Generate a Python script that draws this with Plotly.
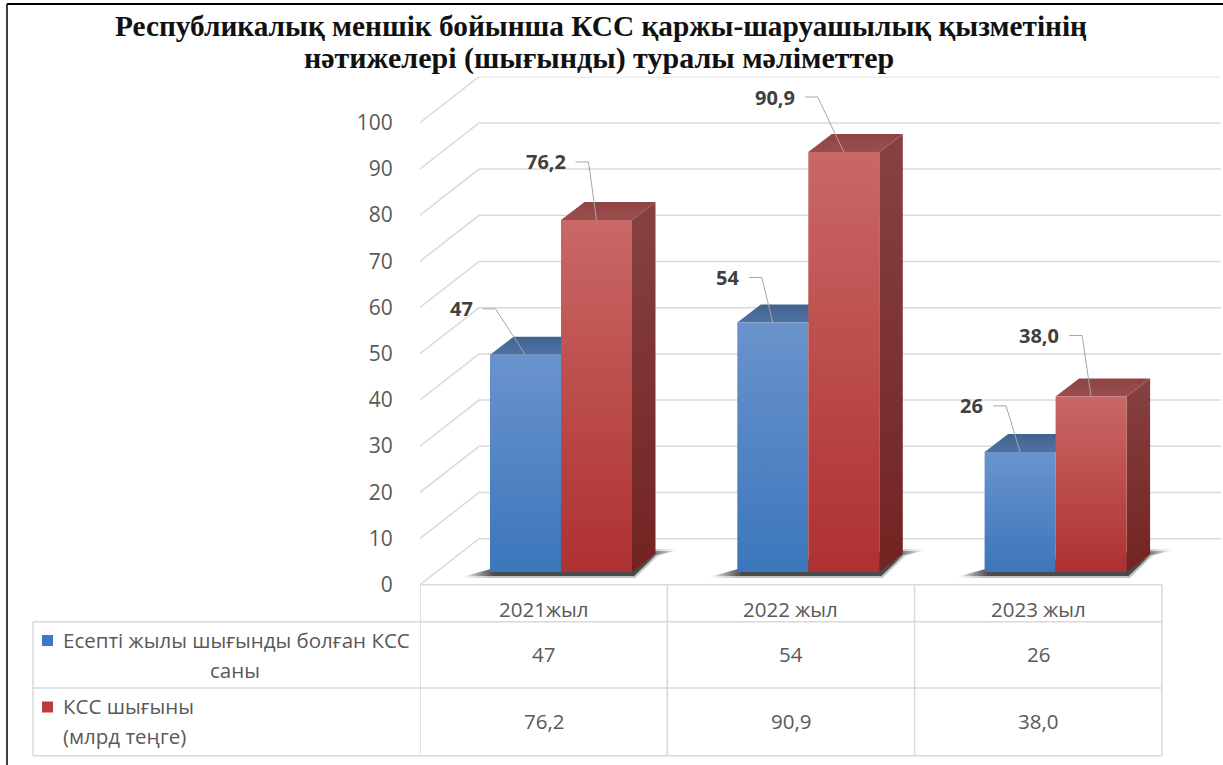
import plotly.graph_objects as go

# данные
categories = ['2021жыл', '2022 жыл', '2023 жыл']
ksk_count = [47, 54, 26]
ksk_loss = [76.2, 90.9, 38.0]
count_labels = ['47', '54', '26']
loss_labels = ['76,2', '90,9', '38,0']
y_ticks = [0, 10, 20, 30, 40, 50, 60, 70, 80, 90, 100]
title_line1 = 'Республикалық меншік бойынша КСС қаржы-шаруашылық қызметінің'
title_line2 = 'нәтижелері (шығынды) туралы мәліметтер'

W, H = 1223, 765
LAYOUT_H = 778              # страница рисует ниже заданной высоты
LEFT, ZERO = 420, 584.7     # угол графика, пиксели
CAT_PX, VAL_PX = 247.3, 4.62
FONT = 'Open Sans'
GREY = '#595959'
LINE = '#D9D9D9'


def xu(px):
    return px / CAT_PX


def yu(px):
    return px / VAL_PX


def paper_y(py):
    return 1 - py / H


BAR_W = xu(71)
BAR_START = xu(70)
BASE = yu(12.7)
DEPTH_X, DEPTH_Y = xu(23.5), yu(18)
WALL_X, WALL_Y = xu(59), yu(46)

BLUE = dict(front=['#6A93CC', '#3B76BC'], top=['#41638F', '#4F72A3'], side=['#45699A', '#2C5A90'])
RED = dict(front=['#C96866', '#AE3130'], top=['#8F4444', '#9A4D4D'], side=['#864241', '#722322'])
SHADOW = ['rgba(70,70,70,0)'] + ['rgba(45,45,45,0.8)'] * 6 + ['rgba(70,70,70,0)']
SHADOW_SOFT = ['rgba(90,90,90,0)'] + ['rgba(80,80,80,0.35)'] * 6 + ['rgba(90,90,90,0)']

fig = go.Figure()


def poly(xs, ys, colors, kind='vertical', name=''):
    scale = [[i / (len(colors) - 1), c] for i, c in enumerate(colors)]
    # vertical gradient goes bottom to top of the axis, so flip the top-to-bottom list
    if kind == 'vertical':
        scale = [[p, c] for p, c in zip([s[0] for s in scale], reversed(colors))]
    fig.add_trace(go.Scatter(
        x=xs + xs[:1], y=ys + ys[:1], mode='lines', fill='toself', name=name,
        line=dict(width=0), fillgradient=dict(type=kind, colorscale=scale),
        hoverinfo='skip', showlegend=False,
    ))


# стены и линии сетки
x_right = 3 + WALL_X
for v in y_ticks:
    fig.add_trace(go.Scatter(
        x=[0, WALL_X, x_right], y=[v, v + WALL_Y, v + WALL_Y], mode='lines',
        line=dict(color=LINE, width=1.5), hoverinfo='skip', showlegend=False,
    ))

# тени
for i, (a, b) in enumerate(zip(ksk_count, ksk_loss)):
    x0 = i + BAR_START
    x1 = x0 + 2 * BAR_W
    poly([x0 - xu(30), x1 + xu(3), x1 + xu(26), x1 + xu(48), x1 + DEPTH_X, x0 + xu(20)],
         [BASE - yu(6), BASE - yu(6), BASE + yu(16), BASE + yu(23), BASE + yu(23), BASE + yu(8)],
         SHADOW_SOFT, kind='horizontal')
    poly([x0 - xu(26), x1 + xu(2), x1 + xu(24), x1 + xu(44), x1 + DEPTH_X, x0 + xu(20)],
         [BASE - yu(4), BASE - yu(4), BASE + yu(17), BASE + yu(21), BASE + yu(21), BASE + yu(8)],
         SHADOW, kind='horizontal')

# столбцы
for i, (a, b) in enumerate(zip(ksk_count, ksk_loss)):
    for s, (val, col, nm) in enumerate([(a, BLUE, 'count'), (b, RED, 'loss')]):
        x0 = i + BAR_START + s * BAR_W
        x1 = x0 + BAR_W
        top = BASE + val
        if s == 1:
            poly([x1, x1 + DEPTH_X, x1 + DEPTH_X, x1], [BASE, BASE + DEPTH_Y, top + DEPTH_Y, top], col['side'], name=nm)
        poly([x0, x0 + DEPTH_X, x1 + DEPTH_X, x1], [top, top + DEPTH_Y, top + DEPTH_Y, top], col['top'], name=nm)
        poly([x0, x1, x1, x0], [BASE, BASE, top, top], col['front'], name=nm)

# подписи с выносками (смещения локтя в пикселях)
count_offsets = [(-30, 46), (-11, 45), (-14, 46)]
loss_offsets = [(-8, 58), (-26, 55), (-9, 61)]
annotations = []
for s, (vals, labels, offsets) in enumerate([(ksk_count, count_labels, count_offsets), (ksk_loss, loss_labels, loss_offsets)]):
    for i, (val, lab, (dx, dy)) in enumerate(zip(vals, labels, offsets)):
        cx = i + BAR_START + (s + 0.5) * BAR_W
        top = BASE + val
        ex, ey = cx + xu(dx), top + yu(dy)
        fig.add_trace(go.Scatter(
            x=[cx, ex, ex - xu(13)], y=[top, ey, ey], mode='lines',
            line=dict(color='#A6A6A6', width=1), hoverinfo='skip', showlegend=False,
        ))
        annotations.append(dict(
            x=ex - xu(21), y=ey, xref='x', yref='y', text=f'<b>{lab}</b>', showarrow=False,
            xanchor='right', yanchor='middle', font=dict(family=FONT, size=20, color='#404040'),
        ))

# таблица данных
ROWS = [584.7, 621.7, 688, 755.7]
shapes = [
    dict(type='line', xref='x', yref='paper', x0=0, x1=3, y0=paper_y(ROWS[0]), y1=paper_y(ROWS[0]), line=dict(color=LINE, width=1.5)),
]
for r in ROWS[1:]:
    shapes.append(dict(type='line', xref='paper', yref='paper', x0=33 / W, x1=1162 / W, y0=paper_y(r), y1=paper_y(r), line=dict(color=LINE, width=1.5)))
for c in range(4):
    shapes.append(dict(type='line', xref='x', yref='paper', x0=c, x1=c, y0=paper_y(ROWS[0]), y1=paper_y(ROWS[3]), line=dict(color=LINE, width=1.5)))
shapes.append(dict(type='line', xref='paper', yref='paper', x0=33 / W, x1=33 / W, y0=paper_y(ROWS[1]), y1=paper_y(ROWS[3]), line=dict(color=LINE, width=1.5)))

# рамка исходной картинки
shapes.append(dict(type='line', xref='paper', yref='paper', x0=7 / W, x1=1, y0=paper_y(4), y1=paper_y(4), line=dict(color='black', width=2)))
shapes.append(dict(type='line', xref='paper', yref='paper', x0=7 / W, x1=7 / W, y0=paper_y(4), y1=0, line=dict(color='black', width=1.5)))

# ключи легенды
for py, color in [(640.5, '#3F78BE'), (707, '#BE3C3A')]:
    shapes.append(dict(type='rect', xref='paper', yref='paper', x0=42 / W, x1=53 / W,
                       y0=paper_y(py + 5.5), y1=paper_y(py - 5.5), fillcolor=color, line=dict(width=0)))


def cell(x, py, text, xref='x', xanchor='center'):
    return dict(x=x, y=paper_y(py), xref=xref, yref='paper', text=text, showarrow=False,
                xanchor=xanchor, yanchor='middle', font=dict(family=FONT, size=20.5, color=GREY))


for i, cat in enumerate(categories):
    annotations.append(cell(i + 0.5, 609, cat))
    annotations.append(cell(i + 0.5, 654, count_labels[i]))
    annotations.append(cell(i + 0.5, 721, loss_labels[i]))
annotations.append(cell(61 / W, 640, 'Есепті жылы шығынды болған КСС', xref='paper', xanchor='left'))
annotations.append(cell(235 / W, 670, 'саны', xref='paper'))
annotations.append(cell(61 / W, 706, 'КСС шығыны', xref='paper', xanchor='left'))
annotations.append(cell(61 / W, 736, '(млрд теңге)', xref='paper', xanchor='left'))
annotations.append(dict(x=599 / W, y=paper_y(58), xref='paper', yref='paper', text=f'<b>{title_line2}</b>',
                        showarrow=False, xanchor='center', yanchor='middle',
                        font=dict(family='Liberation Serif', size=30, color='#111111')))

fig.update_layout(
    width=W, height=LAYOUT_H, autosize=False,
    margin=dict(l=0, r=0, t=0, b=0),
    paper_bgcolor='white', plot_bgcolor='white',
    showlegend=False,
    title=dict(text=f'<b>{title_line1}</b>', x=601 / W, xanchor='center', y=paper_y(25), yanchor='middle',
               font=dict(family='Liberation Serif', size=29.3, color='#111111')),
    xaxis=dict(domain=[LEFT / W, 1], range=[0, (W - LEFT) / CAT_PX], visible=False, fixedrange=True),
    yaxis=dict(domain=[paper_y(ZERO), paper_y(76.7)], range=[0, (ZERO - 76.7) / VAL_PX],
               tickvals=y_ticks, showgrid=False, zeroline=False, showline=False,
               ticks='outside', ticklen=22, tickcolor='rgba(0,0,0,0)',
               tickfont=dict(family=FONT, size=21, color=GREY), fixedrange=True),
    shapes=shapes,
    annotations=annotations,
)

# убрать поля страницы, чтобы рисунок совпал с окном
fig.write_html('out.html', config={'displayModeBar': False},
               post_script="document.body.style.margin='0';document.documentElement.style.overflow='hidden';")
